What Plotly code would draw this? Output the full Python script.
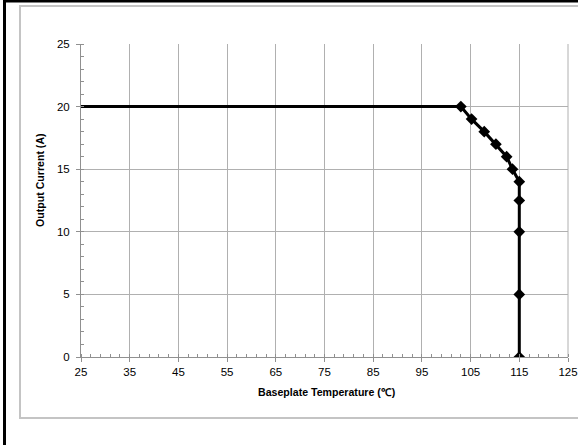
import plotly.graph_objects as go

# Data
flat_temp = [25, 103]
flat_current = [20, 20]
derate_temp = [103, 105.2, 107.8, 110.2, 112.4, 113.6, 115, 115, 115, 115, 115]
derate_current = [20, 19, 18, 17, 16, 15, 14, 12.5, 10, 5, 0]
x_ticks = [25, 35, 45, 55, 65, 75, 85, 95, 105, 115, 125]
y_ticks = [0, 5, 10, 15, 20, 25]

W, H = 578, 445
L, R, T, B = 81, 568, 44, 357  # plot area in pixels

def px(x):
    return (x - L) / (R - L)

def py(y):
    return (B - y) / (B - T)

tick_font = dict(family="Liberation Sans Narrow, Arial Narrow, Liberation Sans, Arial, sans-serif", size=11.5, color="#000")
title_font = dict(family="Liberation Sans, Arial, sans-serif", size=10.6, color="#000", weight="bold")

fig = go.Figure()
fig.add_trace(go.Scatter(x=flat_temp, y=flat_current, mode="lines",
                         line=dict(color="#000", width=3), showlegend=False, hoverinfo="skip"))
fig.add_trace(go.Scatter(x=derate_temp, y=derate_current, mode="lines+markers",
                         line=dict(color="#000", width=3),
                         marker=dict(symbol="diamond", size=9, color="#000"),
                         showlegend=False))

grid = "#b0b0b0"
fig.update_xaxes(range=[25, 125], tickvals=x_ticks, ticktext=[str(v) for v in x_ticks],
                 showgrid=True, gridcolor=grid, gridwidth=1,
                 showline=True, linecolor="#909090", linewidth=1, mirror=False,
                 ticks="outside", ticklen=4, tickcolor="#909090",
                 minor=dict(ticks="inside", dtick=2, tick0=25, ticklen=3, tickcolor="#909090", showgrid=False),
                 tickfont=tick_font, zeroline=False, fixedrange=True, automargin=False)
fig.update_yaxes(range=[0, 25], tickvals=y_ticks, ticktext=[str(v) for v in y_ticks],
                 showgrid=True, gridcolor=grid, gridwidth=1,
                 showline=True, linecolor="#909090", linewidth=1,
                 ticks="outside", ticklen=4, tickcolor="#909090", ticklabelstandoff=4,
                 minor=dict(ticks="inside", dtick=1, tick0=0, ticklen=3, tickcolor="#909090", showgrid=False),
                 tickfont=tick_font, zeroline=False, fixedrange=True, automargin=False)

shapes = [
    # light gray frame
    dict(type="rect", xref="paper", yref="paper", x0=px(20), x1=px(590), y0=py(418), y1=py(6),
         line=dict(color="#c4c4c4", width=2), fillcolor="rgba(0,0,0,0)", layer="below"),
    # right border gridline
    dict(type="line", xref="paper", yref="paper", x0=1, x1=1, y0=0, y1=1,
         line=dict(color=grid, width=1), layer="below"),
    # black outer edges
    dict(type="line", xref="paper", yref="paper", x0=px(3), x1=px(600), y0=py(1), y1=py(1),
         line=dict(color="#000", width=3)),
    dict(type="line", xref="paper", yref="paper", x0=px(4.5), x1=px(4.5), y0=py(-5), y1=py(450),
         line=dict(color="#000", width=3)),
]

annotations = [
    dict(text="Baseplate Temperature (℃)", xref="paper", yref="paper", x=px(326), y=py(392),
         showarrow=False, font=title_font, xanchor="center", yanchor="middle"),
    dict(text="Output Current (A)", xref="paper", yref="paper", x=px(40), y=py(180),
         showarrow=False, font=title_font, textangle=-90, xanchor="center", yanchor="middle"),
]

fig.update_layout(width=W, height=H, margin=dict(l=L, r=W - R, t=T, b=H - B),
                  plot_bgcolor="#fff", paper_bgcolor="#fff",
                  shapes=shapes, annotations=annotations, showlegend=False)

fig.write_html("out.html", config={"displayModeBar": False},
               post_script="document.body.style.margin='0px';document.body.style.overflow='hidden';")
